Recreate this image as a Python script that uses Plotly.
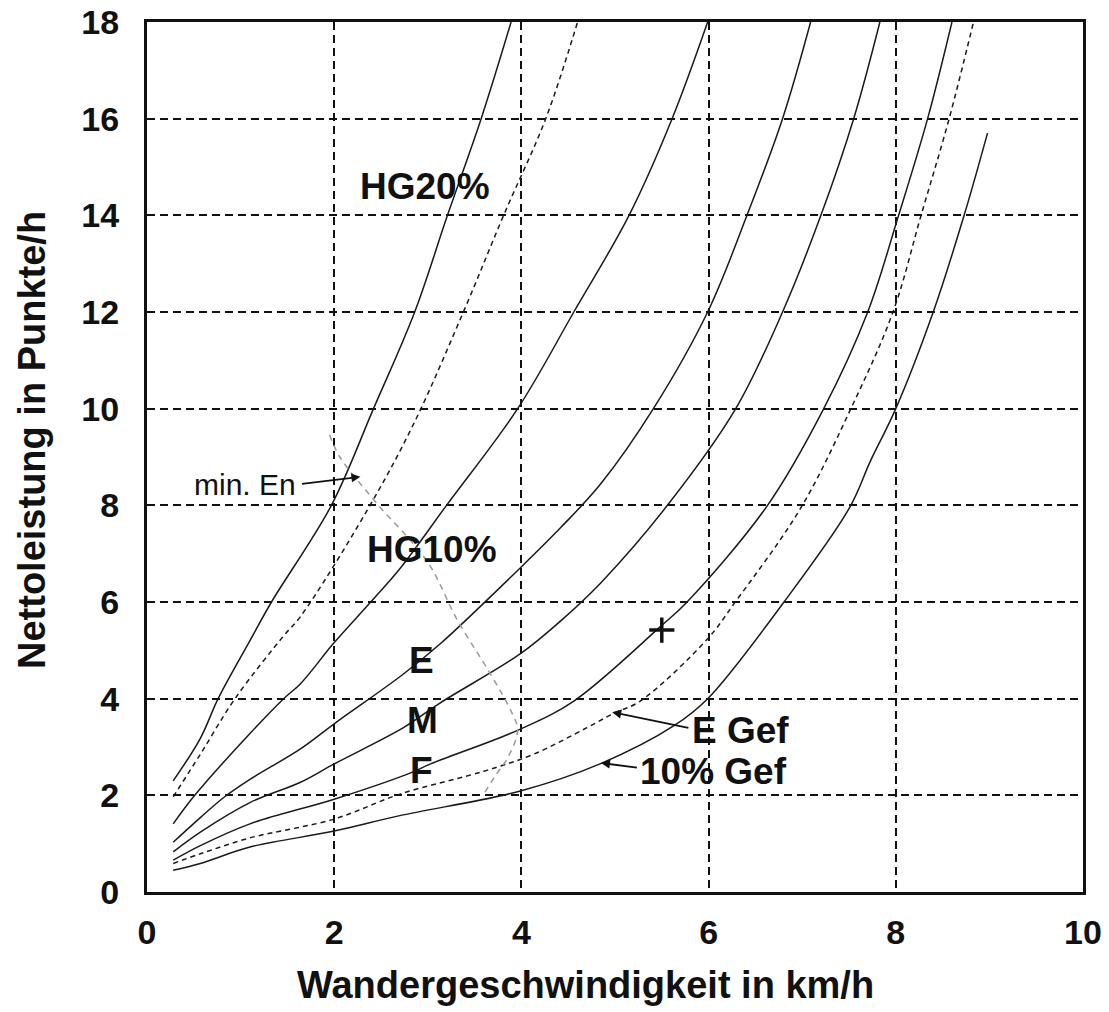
import plotly.graph_objects as go

# ---------------- data ----------------
hg20_x = [0.28, 0.57, 0.76, 1.10, 1.33, 1.97, 2.42, 2.86, 3.21, 3.57, 3.89]
hg20_y = [2.30, 3.18, 4.00, 5.20, 6.00, 8.00, 10.0, 12.0, 14.0, 16.0, 18.0]

hg20d_x = [0.28, 0.57, 0.94, 1.46, 1.64, 2.35, 2.85, 3.38, 3.81, 4.26, 4.60]
hg20d_y = [1.97, 2.85, 4.00, 5.30, 5.70, 7.89, 9.69, 12.0, 14.0, 16.0, 18.0]

hg10_x = [0.28, 0.51, 1.10, 1.46, 1.64, 2.00, 2.39, 2.71, 3.20, 3.96, 4.56, 5.15, 5.61, 5.99]
hg10_y = [1.41, 2.00, 3.28, 4.00, 4.31, 5.16, 6.00, 6.71, 8.00, 10.0, 12.0, 14.0, 16.0, 18.0]

e_x = [0.28, 0.57, 0.83, 1.10, 1.64, 2.00, 2.74, 3.13, 3.99, 4.42, 4.85, 5.41, 5.99, 6.41, 6.79, 7.09]
e_y = [1.03, 1.54, 1.97, 2.33, 2.96, 3.48, 4.51, 5.13, 6.71, 7.54, 8.45, 10.0, 12.0, 14.0, 16.0, 18.0]

m_x = [0.28, 0.57, 1.10, 1.64, 2.00, 2.74, 3.13, 3.99, 4.42, 4.85, 5.56, 6.29, 6.79, 7.20, 7.55, 7.83]
m_y = [0.83, 1.24, 1.85, 2.27, 2.65, 3.40, 3.91, 4.93, 5.61, 6.40, 8.00, 10.0, 12.0, 14.0, 16.0, 18.0]

f_x = [0.28, 0.57, 1.10, 2.00, 2.81, 3.03, 3.99, 4.56, 5.49, 5.77, 6.63, 7.23, 7.70, 8.03, 8.34, 8.60]
f_y = [0.66, 0.96, 1.41, 1.92, 2.46, 2.65, 3.37, 3.95, 5.50, 6.00, 8.00, 10.0, 12.0, 14.0, 16.0, 18.0]

egef_x = [0.28, 0.57, 1.10, 2.00, 2.71, 3.60, 4.13, 4.70, 4.98, 5.27, 5.99, 6.27, 6.98, 7.52, 7.97, 8.27, 8.57, 8.83]
egef_y = [0.59, 0.79, 1.12, 1.51, 2.03, 2.50, 2.85, 3.40, 3.69, 3.95, 5.24, 5.96, 7.93, 10.0, 12.0, 14.0, 16.0, 18.0]

gef10_x = [0.28, 0.57, 1.10, 2.00, 2.70, 3.99, 4.84, 5.63, 5.99, 6.79, 7.50, 7.73, 8.00, 8.40, 8.73, 8.98]
gef10_y = [0.45, 0.59, 0.93, 1.26, 1.58, 2.09, 2.65, 3.44, 4.00, 5.96, 7.93, 8.92, 10.0, 12.0, 14.0, 15.7]

minen_x = [1.95, 2.06, 2.46, 2.99, 3.32, 3.67, 3.90, 3.96, 3.86, 3.72, 3.59]
minen_y = [9.46, 9.00, 8.03, 6.85, 5.61, 4.51, 3.70, 3.35, 2.80, 2.40, 2.00]

plus_x = [5.50]
plus_y = [5.42]

x_ticks = [0, 2, 4, 6, 8, 10]
y_ticks = [0, 2, 4, 6, 8, 10, 12, 14, 16, 18]

# labels: (text, x, y)
curve_labels = [
    ("HG20%", 2.97, 14.59),
    ("HG10%", 3.045, 7.08),
    ("E", 2.93, 4.80),
    ("M", 2.94, 3.54),
    ("F", 2.93, 2.52),
    ("E Gef", 6.34, 3.35),
    ("10% Gef", 6.05, 2.50),
]
# arrows: (tail x, tail y, tip x, tip y)
pointer_arrows = [
    (1.64, 8.44, 2.28, 8.59),
    (5.80, 3.39, 4.97, 3.72),
    (5.25, 2.57, 4.85, 2.67),
]

FONT = "Liberation Sans, Arial, sans-serif"
INK = "#1a1a1a"

fig = go.Figure()

solid = dict(color=INK, width=1.5, shape="spline", smoothing=1.0)
dashed = dict(color=INK, width=1.5, shape="spline", smoothing=1.0, dash="5px,4px")

for xs, ys, st in [
    (hg20_x, hg20_y, solid),
    (hg20d_x, hg20d_y, dashed),
    (hg10_x, hg10_y, solid),
    (e_x, e_y, solid),
    (m_x, m_y, solid),
    (f_x, f_y, solid),
    (egef_x, egef_y, dashed),
    (gef10_x, gef10_y, solid),
]:
    fig.add_trace(go.Scatter(x=xs, y=ys, mode="lines", line=st,
                             showlegend=False, hoverinfo="skip", cliponaxis=True))

fig.add_trace(go.Scatter(x=minen_x, y=minen_y, mode="lines",
                         line=dict(color="#9a9a9a", width=1.5, dash="6px,5px",
                                   shape="spline", smoothing=1.0),
                         showlegend=False, hoverinfo="skip"))

fig.add_trace(go.Scatter(x=plus_x, y=plus_y, mode="markers",
                         marker=dict(symbol="cross-thin", size=18,
                                     line=dict(width=3.5, color="#111")),
                         showlegend=False, hoverinfo="skip"))

annotations = []
for txt, x, y in curve_labels:
    annotations.append(dict(x=x, y=y, xref="x", yref="y", text=txt, showarrow=False,
                            font=dict(family=FONT, size=37, color="#111", weight="bold")))

annotations.append(dict(x=1.05, y=8.44, xref="x", yref="y", text="min. En", showarrow=False,
                        font=dict(family=FONT, size=30, color="#111")))

for tx, ty, hx, hy in pointer_arrows:
    annotations.append(dict(x=hx, y=hy, ax=tx, ay=ty, xref="x", yref="y",
                            axref="x", ayref="y", text="", showarrow=True,
                            arrowhead=2, arrowsize=1, arrowwidth=1.8, arrowcolor="#111",
                            standoff=0, startstandoff=0))

# axis titles (paper coords relative to the plot area: 936 x 870 px)
annotations.append(dict(x=(585 - 147) / 936, y=(892 - 985) / 870, xref="paper", yref="paper",
                        text="Wandergeschwindigkeit in km/h", showarrow=False,
                        xanchor="center", yanchor="middle",
                        font=dict(family=FONT, size=38, color="#111", weight="bold")))
annotations.append(dict(x=(32 - 147) / 936, y=(892 - 440) / 870, xref="paper", yref="paper",
                        text="Nettoleistung in Punkte/h", showarrow=False, textangle=-90,
                        xanchor="center", yanchor="middle",
                        font=dict(family=FONT, size=38, color="#111", weight="bold")))

fig.update_layout(
    width=1109, height=1012,
    margin=dict(l=147, r=26, t=22, b=120, autoexpand=False),
    paper_bgcolor="white", plot_bgcolor="white",
    annotations=annotations,
    xaxis=dict(range=[0, 10], tickvals=x_ticks, ticktext=[str(v) for v in x_ticks],
               showgrid=True, gridcolor="#111", gridwidth=1.6, griddash="8px,5px",
               zeroline=False, showline=True, linecolor="#111", linewidth=3, mirror=True,
               ticks="", ticklabelstandoff=8, automargin=False,
               tickfont=dict(family=FONT, size=34, color="#111", weight="bold")),
    yaxis=dict(range=[0, 18], tickvals=y_ticks, ticktext=[str(v) for v in y_ticks],
               showgrid=True, gridcolor="#111", gridwidth=1.6, griddash="8px,5px",
               zeroline=False, showline=True, linecolor="#111", linewidth=3, mirror=True,
               ticks="", ticklabelstandoff=18, automargin=False,
               tickfont=dict(family=FONT, size=34, color="#111", weight="bold")),
)

# remove the default 8px page margin so the figure sits at the window's top-left corner
fig.write_html("out.html",
               config={"displayModeBar": False},
               post_script="document.body.style.margin='0';document.body.style.overflow='hidden';")
